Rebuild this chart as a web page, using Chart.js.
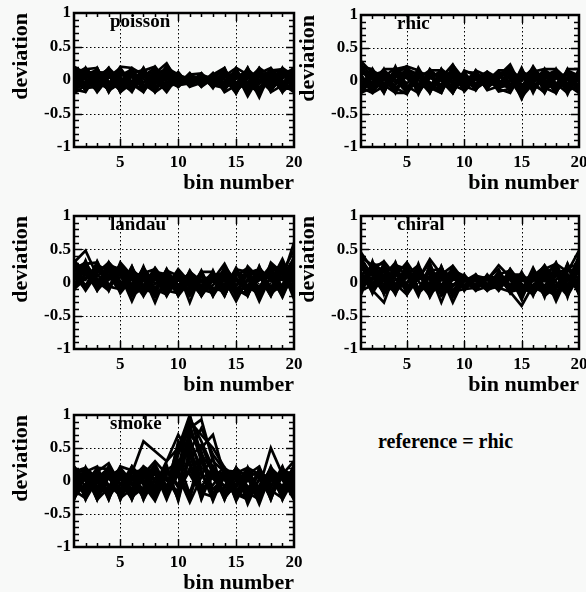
<!DOCTYPE html>
<html>
<head>
<meta charset="utf-8">
<script src="https://cdn.jsdelivr.net/npm/chart.js@4.4.1/dist/chart.umd.min.js"></script>
<style>
  html, body { margin: 0; padding: 0; background: #f8f9f8; }
  #page { position: relative; width: 586px; height: 592px; overflow: hidden; }
  #page canvas { position: absolute; }
  #note { position: absolute; left: 378px; top: 430px; font: bold 20px "Liberation Serif", serif; color: #000; white-space: nowrap; }
</style>
</head>
<body>
<div id="page">
  <canvas id="poisson"></canvas>
  <canvas id="rhic"></canvas>
  <canvas id="landau"></canvas>
  <canvas id="chiral"></canvas>
  <canvas id="smoke"></canvas>
  <div id="note">reference = rhic</div>
</div>
<script>
var bins = [1, 2, 3, 4, 5, 6, 7, 8, 9, 10, 11, 12, 13, 14, 15, 16, 17, 18, 19, 20];
var xTicks = [5, 10, 15, 20];
var yTicks = [-1, -0.5, 0, 0.5, 1];
var xGrid = [5, 10, 15];
var yGrid = [-0.5, 0, 0.5];

// deviation per bin, one row per run
var poissonRuns = [
  [0.12,-0.08,0.10,-0.05,0.14,-0.10,0.06,0.18,-0.04,0.05,-0.06,0.03,-0.02,0.10,-0.12,0.08,-0.05,0.12,-0.09,0.15],
  [-0.10,0.12,-0.06,0.13,-0.12,0.08,-0.11,0.04,0.10,-0.07,0.04,-0.05,0.06,-0.10,0.07,-0.15,0.11,-0.08,0.10,-0.12],
  [0.18,0.02,-0.12,0.08,0.05,-0.14,0.12,-0.06,0.22,0.02,-0.03,0.06,-0.07,0.04,0.12,-0.05,-0.20,0.06,0.12,0.04],
  [-0.15,-0.05,0.14,-0.10,0.09,0.12,-0.08,-0.12,0.05,0.08,0.00,-0.07,0.05,-0.13,0.02,0.10,-0.06,0.14,-0.14,-0.06],
  [0.05,0.15,-0.02,-0.14,0.16,-0.04,-0.15,0.13,-0.10,-0.05,0.07,0.02,-0.04,0.12,-0.18,0.04,0.09,-0.12,0.05,0.18],
  [0.00,-0.14,0.06,0.16,-0.08,0.10,0.15,-0.02,0.14,-0.08,-0.05,0.08,0.02,-0.08,0.15,-0.22,0.13,0.02,-0.10,0.08],
  [-0.06,0.08,0.15,-0.02,-0.15,0.15,-0.04,0.08,-0.15,0.06,0.03,-0.04,0.07,0.14,-0.06,0.12,-0.14,0.10,0.16,-0.15],
  [0.14,-0.12,-0.10,0.12,0.02,-0.08,0.10,-0.14,0.08,0.10,-0.06,0.05,-0.06,-0.05,0.09,-0.10,0.05,-0.16,0.08,0.02],
  [-0.12,0.04,0.08,-0.16,0.12,0.04,-0.12,0.16,0.02,-0.10,0.06,-0.02,0.04,-0.14,0.04,0.14,-0.12,0.08,-0.04,0.12],
  [0.08,0.14,-0.14,0.05,-0.06,-0.16,0.08,0.03,-0.12,0.04,-0.08,0.06,-0.03,0.08,-0.16,0.02,0.16,-0.06,0.14,-0.10],
  [-0.02,-0.10,0.12,0.10,-0.12,0.14,-0.16,0.10,0.25,-0.04,0.02,-0.06,0.08,-0.06,0.10,-0.24,0.06,0.12,-0.16,0.06],
  [0.16,0.06,-0.04,-0.12,0.10,-0.02,0.12,-0.10,-0.06,0.07,-0.04,0.04,-0.08,0.10,-0.10,0.06,-0.18,0.04,0.10,-0.04],
  [-0.08,0.16,0.04,0.06,-0.16,0.06,0.02,-0.16,0.12,-0.02,0.06,-0.08,0.04,-0.16,0.14,-0.06,0.10,-0.14,0.02,0.14],
  [0.10,-0.16,0.10,-0.08,0.06,0.16,-0.10,0.06,-0.08,0.08,-0.02,0.07,-0.05,0.02,-0.20,0.12,-0.02,0.16,-0.12,-0.14],
  [-0.16,0.10,-0.08,0.14,-0.04,-0.10,0.16,-0.06,0.06,-0.08,0.05,-0.03,0.06,-0.10,0.06,-0.14,0.14,-0.04,0.06,0.10],
  [0.04,-0.04,0.16,-0.06,0.14,-0.12,0.04,0.14,-0.14,0.02,-0.07,0.08,-0.02,0.12,-0.04,0.08,-0.22,0.10,-0.06,0.02],
  [0.18,-0.16,0.17,-0.18,0.16,-0.15,0.18,-0.14,0.20,-0.10,0.09,-0.10,0.10,-0.16,0.17,-0.18,0.16,-0.17,0.18,-0.16],
  [-0.17,0.18,-0.16,0.17,-0.18,0.16,-0.17,0.19,-0.15,0.10,-0.09,0.10,-0.12,0.17,-0.16,0.18,-0.19,0.16,-0.18,0.19],
  [0.20,0.10,-0.18,0.04,0.18,-0.06,-0.18,0.10,0.16,-0.10,0.08,0.10,-0.10,0.06,0.18,-0.20,0.10,0.18,-0.06,-0.18],
  [-0.20,-0.08,0.18,-0.16,-0.04,0.18,0.08,-0.18,-0.06,0.12,-0.10,-0.04,0.10,-0.18,-0.08,0.18,-0.16,0.00,0.18,0.06],
  [0.08,0.18,0.00,0.18,-0.18,-0.04,0.18,-0.18,0.12,-0.06,0.10,-0.10,0.02,0.16,-0.14,-0.04,0.18,-0.18,-0.08,0.18],
  [-0.14,-0.18,0.10,-0.08,0.20,0.18,-0.16,0.02,-0.18,0.06,-0.04,0.10,-0.08,-0.12,0.18,0.08,-0.26,0.14,0.16,-0.10],
  [0.16,0.00,-0.16,0.18,0.00,-0.18,0.14,0.20,-0.02,-0.10,0.10,-0.08,0.08,0.18,-0.20,0.16,0.00,-0.16,0.10,0.16],
  [-0.04,0.16,0.18,-0.18,0.10,0.08,-0.06,-0.18,0.18,0.08,-0.10,0.04,-0.10,-0.02,0.10,-0.18,0.18,0.06,-0.18,-0.02]
];

var rhicRuns = [
  [0.30,0.12,-0.05,0.10,0.22,-0.08,0.12,0.05,0.25,-0.06,0.12,-0.04,0.08,0.25,-0.10,0.22,-0.05,0.14,-0.08,0.15],
  [-0.12,0.10,0.14,-0.10,-0.20,0.12,-0.06,0.10,-0.12,0.08,-0.05,0.06,-0.08,0.10,-0.27,0.08,0.12,-0.12,0.14,-0.10],
  [0.08,-0.14,0.06,0.20,0.04,-0.12,0.10,-0.14,0.06,0.12,-0.08,0.04,0.10,-0.12,0.08,-0.14,0.06,0.12,-0.16,0.06],
  [0.15,0.04,-0.12,0.06,0.16,0.08,-0.15,0.08,0.14,-0.10,0.04,-0.08,0.04,0.18,0.02,0.12,-0.12,-0.04,0.10,-0.16],
  [-0.05,0.14,0.08,-0.14,0.10,-0.16,0.04,0.16,-0.04,0.02,0.10,-0.06,-0.04,0.06,-0.18,0.16,0.02,-0.16,0.04,0.12],
  [0.20,-0.08,0.14,0.02,-0.12,0.14,0.08,-0.12,0.10,-0.12,0.06,0.08,-0.10,-0.06,0.12,-0.06,-0.16,0.10,-0.10,0.02],
  [-0.15,0.06,-0.10,0.16,0.06,-0.04,-0.12,0.12,-0.16,0.06,-0.10,0.02,0.06,0.12,-0.08,0.04,0.14,-0.08,0.16,-0.14],
  [0.10,-0.16,0.02,-0.06,0.18,0.10,-0.02,-0.16,0.20,0.00,0.08,-0.10,0.02,-0.14,0.16,-0.10,0.08,0.16,-0.04,0.08],
  [-0.08,0.16,-0.14,0.10,-0.14,0.06,0.14,0.06,-0.10,0.10,-0.04,0.10,-0.06,0.16,-0.20,0.10,-0.10,0.04,0.12,-0.18],
  [0.04,-0.04,0.12,-0.16,0.12,-0.18,0.06,-0.06,0.08,-0.14,0.12,-0.02,0.12,-0.08,0.04,0.18,-0.14,0.12,-0.12,0.10],
  [0.24,0.08,-0.16,0.14,-0.04,0.14,-0.08,0.14,0.00,0.04,-0.12,0.06,-0.12,0.08,-0.12,0.02,0.10,-0.14,0.06,-0.06],
  [-0.18,-0.10,0.10,-0.02,0.20,-0.06,0.12,-0.10,0.16,-0.06,0.02,-0.08,0.08,0.20,-0.06,-0.12,0.16,0.06,-0.16,0.16],
  [0.12,0.14,-0.04,0.12,-0.10,0.08,-0.16,0.04,-0.14,0.12,-0.06,0.04,-0.02,-0.10,0.14,0.06,-0.08,0.14,0.02,-0.12],
  [-0.02,-0.12,0.16,-0.12,0.08,-0.14,0.16,-0.14,0.12,-0.02,0.14,-0.04,0.10,-0.04,-0.14,0.20,-0.02,-0.10,0.14,0.04],
  [0.28,-0.16,0.18,-0.18,0.20,-0.20,0.16,-0.16,0.22,-0.14,0.16,-0.12,0.14,-0.16,0.20,-0.18,0.18,-0.18,0.18,-0.18],
  [-0.18,0.18,-0.18,0.22,-0.16,0.18,-0.18,0.18,-0.18,0.14,-0.14,0.12,-0.14,0.22,-0.22,0.20,-0.18,0.18,-0.20,0.18],
  [0.16,0.06,-0.18,0.18,0.22,-0.12,0.16,0.02,-0.18,0.16,0.08,-0.12,0.14,0.04,-0.20,0.18,0.04,-0.18,0.16,0.08],
  [-0.10,-0.18,0.16,0.02,-0.18,0.20,-0.10,-0.18,0.18,-0.16,0.04,0.14,-0.12,-0.18,0.12,-0.02,-0.18,0.16,-0.06,-0.18],
  [0.22,0.18,-0.06,-0.18,0.14,0.02,-0.18,0.18,0.04,-0.08,-0.14,0.14,0.04,0.22,-0.16,0.14,0.18,-0.04,-0.18,0.14],
  [-0.16,0.00,0.18,0.18,-0.08,-0.18,0.18,0.00,-0.18,0.14,0.12,-0.14,-0.08,0.02,-0.24,-0.04,0.18,0.18,0.02,-0.12],
  [0.06,-0.18,-0.08,0.14,0.22,0.16,-0.08,-0.18,0.24,0.02,-0.12,0.00,0.16,0.16,0.00,0.20,-0.10,-0.18,0.18,0.18],
  [-0.18,0.16,0.04,-0.18,-0.18,0.04,0.16,0.16,-0.06,-0.14,0.16,0.08,-0.16,-0.12,0.18,-0.16,0.12,0.10,-0.16,-0.04]
];

var landauRuns = [
  [0.30,0.48,0.10,0.22,-0.05,0.20,0.02,0.12,-0.08,0.14,-0.02,0.08,0.04,0.28,-0.06,0.20,0.04,0.25,0.06,0.60],
  [0.05,0.22,-0.08,0.30,0.12,-0.28,0.10,-0.30,0.12,-0.12,0.10,-0.10,0.12,-0.08,0.16,-0.10,0.22,0.02,0.35,-0.05],
  [0.22,-0.06,0.28,0.04,0.24,0.08,-0.12,0.20,-0.04,0.16,-0.30,0.14,-0.12,0.04,-0.28,0.06,-0.06,0.16,-0.10,0.40],
  [-0.08,0.28,0.06,-0.10,0.18,-0.12,0.22,-0.02,0.10,-0.16,0.06,-0.04,0.16,-0.14,0.08,-0.16,0.18,-0.12,0.20,-0.25],
  [0.35,0.06,0.20,0.16,-0.08,0.16,-0.16,0.08,-0.18,0.04,0.12,-0.16,-0.04,0.18,-0.04,0.12,-0.28,0.10,0.04,0.22],
  [0.10,-0.10,0.32,-0.04,0.08,-0.02,0.18,-0.14,0.20,-0.06,-0.10,0.12,-0.16,0.10,-0.16,-0.04,0.10,-0.20,0.28,0.10],
  [0.18,0.26,-0.04,0.12,-0.12,0.22,-0.06,0.16,-0.10,0.08,-0.14,0.04,0.10,-0.18,0.12,0.18,-0.10,0.22,-0.14,0.30],
  [-0.10,0.14,0.16,0.28,0.02,-0.16,0.14,-0.22,0.04,-0.18,0.14,-0.06,0.02,-0.10,0.22,-0.08,0.14,0.04,-0.18,0.12],
  [0.26,-0.08,0.12,-0.06,0.22,0.04,-0.20,0.06,-0.14,0.12,-0.08,0.16,-0.20,0.06,-0.12,0.04,-0.16,0.28,0.12,-0.08],
  [0.02,0.32,-0.10,0.18,-0.02,0.12,0.08,-0.08,0.14,-0.20,0.02,-0.18,0.08,0.16,-0.20,0.14,0.20,-0.14,0.16,0.48],
  [0.14,0.04,0.24,-0.08,0.14,-0.10,-0.04,0.22,-0.02,0.06,-0.20,0.10,-0.08,-0.14,0.04,-0.14,0.04,0.12,-0.22,0.18],
  [-0.04,0.20,0.00,0.24,-0.16,0.06,0.16,-0.12,0.08,-0.10,0.16,-0.12,0.14,-0.04,0.10,0.22,-0.20,0.08,0.22,-0.12],
  [0.28,0.12,-0.06,0.06,0.26,-0.20,0.04,0.10,-0.20,0.10,-0.06,0.02,-0.14,0.12,-0.10,0.02,0.16,-0.06,0.08,0.26],
  [0.08,-0.04,0.18,0.10,-0.14,0.10,-0.10,-0.16,0.16,-0.04,0.08,-0.20,0.06,-0.20,0.18,-0.18,0.08,0.18,-0.06,0.05],
  [0.32,-0.10,0.30,-0.12,0.28,-0.16,0.24,-0.18,0.20,-0.20,0.16,-0.20,0.18,-0.20,0.20,-0.20,0.24,-0.18,0.28,-0.16],
  [-0.12,0.33,-0.10,0.30,-0.10,0.24,-0.20,0.20,-0.20,0.18,-0.18,0.16,-0.20,0.22,-0.22,0.22,-0.20,0.26,-0.20,0.30],
  [0.24,0.16,-0.12,0.26,0.20,-0.10,0.14,0.20,-0.12,-0.16,0.16,0.02,0.10,-0.20,0.20,0.16,-0.12,0.20,0.24,-0.18],
  [-0.06,0.28,0.30,-0.06,-0.10,0.24,-0.14,-0.02,0.18,0.10,-0.16,0.18,-0.20,0.16,-0.10,-0.20,0.24,-0.16,-0.04,0.34],
  [0.16,-0.12,0.14,0.30,0.10,-0.06,0.22,-0.20,-0.06,0.20,0.00,-0.18,0.12,0.02,-0.18,0.24,0.06,0.08,-0.20,0.24],
  [0.30,0.20,0.02,-0.12,0.30,0.10,-0.18,0.16,0.12,-0.18,0.18,-0.10,-0.16,0.24,0.02,-0.06,-0.18,0.30,0.14,-0.20],
  [-0.10,0.06,0.26,0.18,-0.12,0.18,0.06,-0.10,-0.18,0.04,-0.14,0.16,0.16,-0.12,0.12,0.10,0.20,-0.10,0.30,0.00],
  [0.20,0.30,-0.12,0.08,0.22,-0.20,-0.08,0.18,0.06,-0.10,0.08,-0.20,0.04,0.14,-0.16,-0.14,0.10,-0.20,0.10,0.36]
];

var chiralRuns = [
  [0.45,0.20,0.32,0.10,0.30,0.05,0.35,0.12,0.25,0.02,0.08,0.04,0.26,0.08,0.10,0.02,0.20,0.28,0.16,0.48],
  [0.10,-0.12,-0.30,0.16,-0.10,0.20,-0.22,0.10,-0.30,0.06,-0.08,0.06,-0.08,-0.14,-0.35,-0.04,0.12,-0.28,0.10,-0.10],
  [-0.14,0.28,0.08,-0.10,0.22,-0.14,0.18,-0.12,0.16,-0.10,0.06,-0.06,0.12,0.18,-0.10,0.14,-0.14,0.22,-0.16,0.30],
  [0.30,-0.06,0.18,0.24,-0.16,0.12,0.04,0.22,-0.06,0.10,-0.04,0.08,-0.04,0.04,-0.22,0.10,0.24,-0.10,0.28,-0.06],
  [0.05,0.18,-0.12,0.04,0.14,-0.20,0.26,-0.06,0.10,-0.08,0.04,-0.10,0.06,-0.10,0.12,-0.18,0.06,0.14,-0.20,0.22],
  [0.22,0.04,0.26,-0.14,0.08,0.16,-0.12,0.16,-0.18,0.04,-0.12,0.10,-0.02,0.14,-0.16,0.08,-0.20,0.04,0.22,0.12],
  [-0.18,0.24,-0.04,0.20,-0.06,0.04,0.14,-0.30,0.12,-0.04,0.10,-0.06,0.16,-0.06,0.06,-0.10,0.18,-0.16,0.02,0.38],
  [0.16,-0.16,0.12,-0.18,0.24,-0.08,-0.04,0.10,-0.12,0.08,-0.08,0.04,-0.12,0.10,-0.26,0.16,-0.06,0.26,-0.12,0.04],
  [0.36,0.10,-0.16,0.12,-0.02,0.22,-0.18,0.04,0.20,-0.12,0.06,-0.02,0.08,-0.12,0.08,0.04,0.14,-0.08,0.26,-0.18],
  [-0.06,0.30,0.16,-0.06,0.16,-0.12,0.22,-0.14,0.04,0.06,-0.10,0.08,-0.10,0.20,-0.10,-0.14,0.08,0.18,-0.04,0.26],
  [0.26,-0.02,0.22,0.06,-0.12,0.10,-0.08,0.18,-0.22,0.02,0.04,-0.08,0.02,-0.04,0.14,-0.06,-0.16,0.10,0.12,-0.14],
  [0.02,0.14,-0.08,0.26,0.10,-0.16,0.10,-0.08,0.14,-0.06,-0.02,0.06,0.20,-0.16,0.02,0.12,-0.10,-0.20,0.18,0.16],
  [0.40,-0.10,0.06,-0.12,0.20,0.02,-0.20,0.14,-0.04,0.10,-0.06,-0.04,0.04,0.06,-0.20,0.18,0.02,0.12,-0.14,0.34],
  [-0.10,0.08,0.20,-0.02,-0.18,0.14,0.06,-0.18,0.08,-0.08,0.08,-0.10,-0.06,0.12,-0.06,-0.18,0.22,-0.06,0.06,-0.08],
  [0.33,-0.16,0.30,-0.16,0.28,-0.18,0.26,-0.16,0.20,-0.12,0.12,-0.12,0.12,-0.16,0.16,-0.20,0.24,-0.20,0.28,-0.18],
  [-0.16,0.32,-0.18,0.30,-0.16,0.28,-0.20,0.24,-0.16,0.12,-0.12,0.12,-0.12,0.16,-0.18,0.20,-0.22,0.28,-0.22,0.32],
  [0.22,0.12,-0.16,0.26,0.20,-0.10,0.18,0.20,-0.14,-0.10,0.10,0.06,-0.10,0.12,0.12,-0.16,0.14,0.24,-0.08,0.20],
  [-0.08,0.26,0.28,-0.12,0.00,0.24,-0.16,-0.04,0.18,0.10,-0.12,-0.06,0.10,-0.14,-0.10,0.16,-0.20,-0.06,0.22,0.28],
  [0.28,-0.12,0.10,0.30,-0.18,0.06,0.30,-0.20,-0.04,0.02,0.12,-0.12,-0.02,0.14,-0.20,0.04,0.26,0.00,-0.20,0.10],
  [0.12,0.20,-0.16,-0.04,0.26,-0.16,0.00,0.18,0.08,-0.10,-0.08,0.10,0.06,-0.12,0.06,-0.12,0.10,-0.22,0.12,-0.16],
  [-0.12,-0.04,0.24,0.14,-0.10,0.18,-0.14,0.24,-0.20,0.08,0.02,-0.12,0.16,-0.04,-0.14,0.22,-0.12,0.14,0.20,0.06],
  [0.38,0.26,0.02,-0.16,0.12,0.26,-0.06,-0.12,0.24,-0.06,0.06,0.08,-0.08,0.20,-0.02,-0.18,0.06,0.30,-0.10,0.42]
];

var smokeRuns = [
  [0.20,-0.10,0.14,0.27,-0.06,0.12,0.60,0.45,0.30,0.50,1.00,0.40,0.15,0.10,-0.06,0.12,-0.10,0.50,0.10,0.30],
  [-0.18,0.12,-0.20,0.08,0.16,-0.22,0.10,0.30,0.10,0.20,0.95,0.60,0.20,-0.10,0.16,-0.35,0.04,-0.20,0.14,-0.16],
  [0.10,0.18,-0.08,-0.22,0.12,0.06,-0.20,0.18,-0.24,0.40,0.80,0.93,0.30,0.14,-0.18,0.06,-0.35,0.12,-0.12,0.20],
  [-0.25,-0.04,0.16,-0.10,0.20,-0.14,0.16,-0.08,0.20,-0.10,0.70,0.50,0.70,0.08,0.04,-0.14,0.16,-0.06,0.18,-0.24],
  [0.16,-0.22,0.04,0.20,-0.24,0.18,-0.04,0.26,-0.10,0.55,0.60,0.20,0.10,-0.20,0.14,0.10,-0.22,0.16,-0.26,0.08],
  [-0.06,0.16,-0.26,0.10,-0.12,0.20,-0.28,0.04,0.16,0.30,0.45,0.80,0.40,0.16,-0.28,0.16,0.06,-0.26,0.10,-0.06],
  [0.04,-0.14,0.20,-0.26,0.04,-0.28,0.12,-0.24,0.06,-0.26,0.85,0.30,-0.12,0.04,0.18,-0.20,0.12,0.04,-0.20,0.14],
  [-0.20,0.06,-0.14,0.16,-0.28,0.08,-0.16,0.14,-0.28,0.14,0.55,-0.10,0.22,-0.24,-0.06,0.14,-0.12,0.20,0.02,-0.28],
  [0.14,-0.26,0.10,-0.18,0.14,-0.06,0.20,-0.14,0.24,-0.30,0.40,0.16,-0.30,0.12,-0.14,-0.28,0.18,-0.16,0.16,0.02],
  [-0.10,0.20,-0.04,0.04,-0.16,0.22,-0.06,-0.30,0.10,0.16,-0.26,0.30,0.04,-0.16,0.10,-0.08,-0.26,0.08,-0.08,0.22],
  [0.22,0.00,-0.22,0.14,0.08,-0.20,0.04,0.10,-0.16,0.60,0.30,-0.28,0.16,0.02,-0.24,0.06,0.14,-0.28,0.20,-0.12],
  [-0.28,0.10,0.08,-0.28,0.20,-0.02,-0.24,0.16,0.02,-0.18,0.20,0.10,-0.20,0.20,0.06,-0.24,0.02,0.12,-0.18,0.10],
  [0.06,-0.18,0.18,-0.06,-0.22,0.14,0.16,-0.18,0.14,0.08,-0.32,0.06,0.10,-0.28,0.12,0.20,-0.18,0.00,0.12,-0.20],
  [-0.14,0.14,-0.12,0.22,-0.04,-0.26,0.08,0.04,-0.20,0.24,0.10,-0.20,0.12,-0.08,0.20,-0.12,0.10,-0.22,0.06,0.16],
  [0.18,-0.28,0.02,-0.14,0.16,0.02,-0.12,0.22,-0.08,-0.14,0.16,-0.14,-0.06,0.16,-0.30,0.02,-0.14,0.16,-0.28,0.04],
  [-0.02,0.08,-0.28,0.06,-0.18,0.16,-0.20,-0.12,0.18,-0.06,-0.16,0.14,-0.26,0.10,-0.10,0.18,-0.30,0.10,0.08,-0.18],
  [0.20,-0.28,0.18,-0.28,0.20,-0.28,0.18,-0.28,0.20,-0.28,0.50,-0.26,0.20,-0.28,0.20,-0.28,0.18,-0.28,0.20,-0.28],
  [-0.28,0.20,-0.28,0.22,-0.28,0.20,-0.28,0.22,-0.26,0.30,-0.20,0.40,-0.28,0.18,-0.28,0.20,-0.28,0.20,-0.28,0.20],
  [0.06,0.14,-0.28,-0.10,0.22,0.16,-0.20,-0.06,0.30,0.70,0.40,-0.14,0.06,0.20,-0.20,-0.28,0.20,-0.10,0.22,-0.24],
  [-0.22,-0.06,0.20,0.18,-0.26,-0.12,0.22,0.10,-0.22,0.10,0.75,0.45,-0.20,-0.10,0.20,0.04,-0.20,0.22,-0.16,0.06],
  [0.14,0.20,0.04,-0.20,-0.06,0.22,0.02,-0.26,0.10,0.20,0.65,0.10,0.35,-0.26,-0.04,0.20,0.10,-0.14,-0.26,0.22],
  [-0.14,-0.26,0.12,0.06,0.18,-0.24,-0.10,0.20,-0.14,0.45,0.90,0.70,0.50,0.20,0.00,-0.20,-0.08,0.18,0.04,-0.14],
  [0.22,0.00,-0.18,0.20,-0.14,0.04,0.22,-0.02,0.04,-0.20,0.35,0.55,0.10,0.06,-0.16,0.10,0.22,-0.24,0.16,0.10],
  [-0.26,0.14,0.22,-0.24,0.10,-0.18,0.06,0.24,-0.24,0.20,0.25,-0.18,-0.24,0.16,0.14,-0.18,-0.28,0.04,-0.22,0.26]
];

// plot boxes on the page: left, top, right, bottom of each frame
var panels = [
  { id: 'poisson', name: 'poisson', runs: poissonRuns, box: [74, 13, 294, 147] },
  { id: 'rhic',    name: 'rhic',    runs: rhicRuns,    box: [361, 15, 579, 147] },
  { id: 'landau',  name: 'landau',  runs: landauRuns,  box: [74, 216, 294, 349] },
  { id: 'chiral',  name: 'chiral',  runs: chiralRuns,  box: [361, 216, 579, 349] },
  { id: 'smoke',   name: 'smoke',   runs: smokeRuns,   box: [74, 415, 294, 547] }
];

var FONT = '"Liberation Serif", "Times New Roman", serif';
var PAD_LEFT = 74, PAD_TOP = 13, PAD_RIGHT = 14, PAD_BOTTOM = 53;

Chart.defaults.font.family = FONT;
Chart.defaults.color = '#000';

// dotted grid under the lines, inward ticks + heavy frame + panel name on top
var framePlugin = {
  id: 'frame',
  beforeDatasetsDraw: function (chart) {
    var ctx = chart.ctx, a = chart.chartArea;
    var xs = chart.scales.x, ys = chart.scales.y;
    ctx.save();
    ctx.strokeStyle = '#000';
    ctx.lineWidth = 1;
    ctx.setLineDash([1.5, 2.5]);
    ctx.beginPath();
    xGrid.forEach(function (v) {
      var px = Math.round(xs.getPixelForValue(v)) + 0.5;
      ctx.moveTo(px, a.top);
      ctx.lineTo(px, a.bottom);
    });
    yGrid.forEach(function (v) {
      var py = Math.round(ys.getPixelForValue(v)) + 0.5;
      ctx.moveTo(a.left, py);
      ctx.lineTo(a.right, py);
    });
    ctx.stroke();
    ctx.restore();
  },
  afterDatasetsDraw: function (chart, args, opts) {
    var ctx = chart.ctx, a = chart.chartArea;
    var xs = chart.scales.x, ys = chart.scales.y;
    ctx.save();
    ctx.strokeStyle = '#000';
    ctx.lineWidth = 1.5;
    ctx.beginPath();
    for (var b = 2; b < 20; b++) {
      var len = b % 5 === 0 ? 8 : 4;
      var px = Math.round(xs.getPixelForValue(b)) + 0.5;
      ctx.moveTo(px, a.bottom); ctx.lineTo(px, a.bottom - len);
      ctx.moveTo(px, a.top); ctx.lineTo(px, a.top + len);
    }
    for (var k = -9; k <= 9; k++) {
      var l2 = k % 5 === 0 ? 8 : 5;
      var py = Math.round(ys.getPixelForValue(k / 10)) + 0.5;
      ctx.moveTo(a.left, py); ctx.lineTo(a.left + l2, py);
      ctx.moveTo(a.right, py); ctx.lineTo(a.right - l2, py);
    }
    ctx.stroke();
    ctx.lineWidth = 2.5;
    ctx.strokeRect(a.left, a.top, a.right - a.left, a.bottom - a.top);
    ctx.fillStyle = '#000';
    ctx.font = 'bold 19px ' + FONT;
    ctx.textBaseline = 'alphabetic';
    ctx.textAlign = 'left';
    ctx.fillText(opts.name, a.left + 36, a.top + 14);
    ctx.restore();
  }
};

function fixedScale(scale) {
  scale.paddingLeft = 0;
  scale.paddingRight = 0;
  scale.paddingTop = 0;
  scale.paddingBottom = 0;
}

panels.forEach(function (p) {
  var L = p.box[0], T = p.box[1], R = p.box[2], B = p.box[3];
  var canvas = document.getElementById(p.id);
  var w = (R - L) + PAD_LEFT + PAD_RIGHT;
  var h = (B - T) + PAD_TOP + PAD_BOTTOM;
  canvas.width = w;
  canvas.height = h;
  canvas.style.width = w + 'px';
  canvas.style.height = h + 'px';
  canvas.style.left = (L - PAD_LEFT) + 'px';
  canvas.style.top = (T - PAD_TOP) + 'px';

  var datasets = p.runs.map(function (run) {
    return {
      data: run.map(function (v, i) { return { x: bins[i], y: v }; }),
      borderColor: '#000',
      borderWidth: 2.7,
      borderJoinStyle: 'miter',
      pointRadius: 0,
      tension: 0,
      fill: false
    };
  });

  new Chart(canvas, {
    type: 'line',
    data: { datasets: datasets },
    options: {
      responsive: false,
      animation: false,
      devicePixelRatio: 1,
      layout: { padding: { left: 0, top: PAD_TOP, right: PAD_RIGHT, bottom: 0 } },
      plugins: {
        legend: { display: false },
        tooltip: { enabled: false },
        frame: { name: p.name }
      },
      scales: {
        x: {
          type: 'linear',
          min: 1,
          max: 20,
          grid: { display: false, drawTicks: false },
          border: { display: false },
          afterBuildTicks: function (scale) {
            scale.ticks = xTicks.map(function (v) { return { value: v }; });
          },
          afterFit: function (scale) {
            fixedScale(scale);
            scale.height = PAD_BOTTOM;
          },
          ticks: {
            padding: 5,
            maxRotation: 0,
            font: { size: 17, weight: 'bold', family: FONT },
            callback: function (v) { return String(v); }
          },
          title: {
            display: true,
            text: 'bin number',
            align: 'end',
            padding: { top: 0, bottom: 3 },
            font: { size: 22, weight: 'bold', family: FONT }
          }
        },
        y: {
          type: 'linear',
          min: -1,
          max: 1,
          grid: { display: false, drawTicks: false },
          border: { display: false },
          afterBuildTicks: function (scale) {
            scale.ticks = yTicks.map(function (v) { return { value: v }; });
          },
          afterFit: function (scale) {
            fixedScale(scale);
            scale.width = PAD_LEFT;
          },
          ticks: {
            padding: 3,
            font: { size: 17, weight: 'bold', family: FONT },
            callback: function (v) { return String(v); }
          },
          title: {
            display: true,
            text: 'deviation',
            align: 'end',
            padding: { top: 8, bottom: 0 },
            font: { size: 22, weight: 'bold', family: FONT }
          }
        }
      }
    },
    plugins: [framePlugin]
  });
});
</script>
</body>
</html>
